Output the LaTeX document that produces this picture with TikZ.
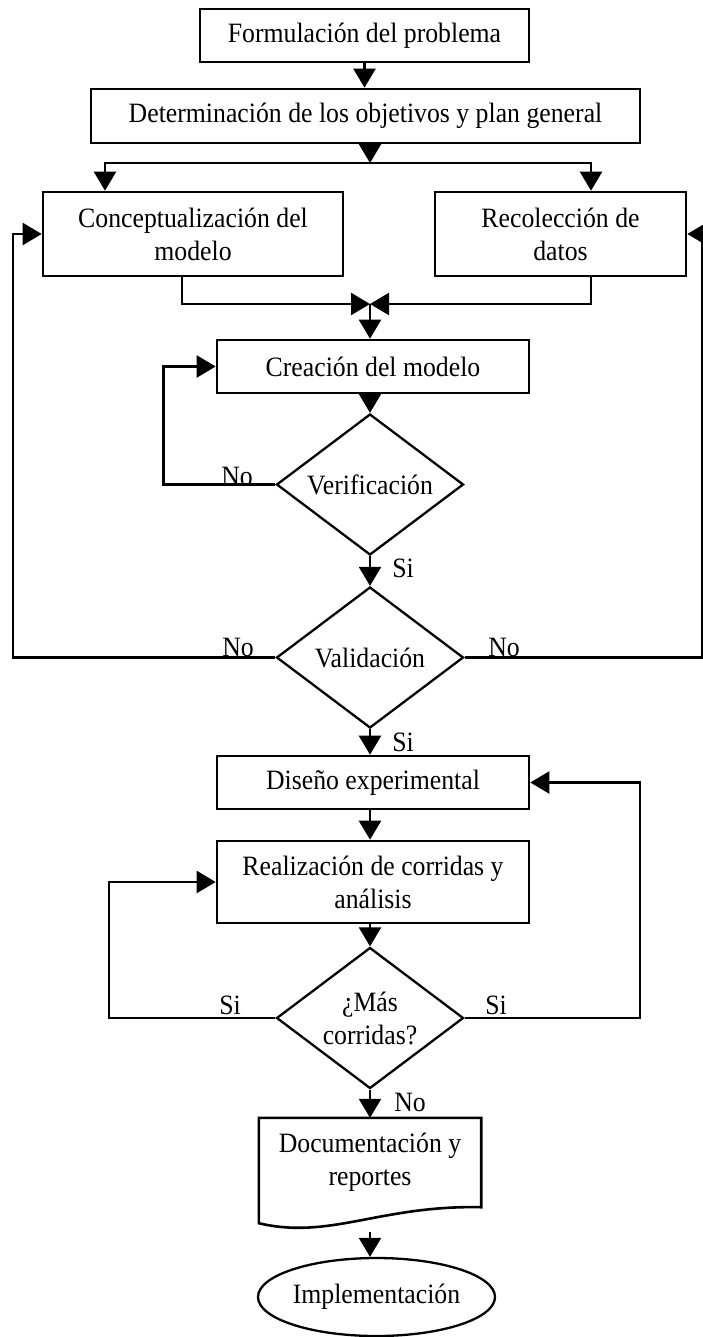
\documentclass[tikz,border=0pt]{standalone}
\usepackage{fontspec}
\setmainfont{Liberation Serif}[FakeStretch=0.92]
\usetikzlibrary{arrows.meta,shapes.geometric,calc}
\begin{document}
\begin{tikzpicture}[x=1pt,y=-1pt,
  every node/.style={font=\fontsize{28}{33}\selectfont, inner sep=0pt},
  box/.style={draw, line width=2.6pt, rectangle, align=center},
  dec/.style={draw, line width=2.3pt, diamond, aspect=1.33, align=center, minimum width=187pt, minimum height=141pt},
  lnk/.style={line width=2.3pt},
  tipx/.tip={Triangle[length=19pt,width=22pt]},
  arr/.style={line width=2.3pt, -tipx},
  arrboth/.style={line width=2.3pt, tipx-tipx},
  lab/.style={font=\fontsize{28}{33}\selectfont}
]
\useasboundingbox (0,0) rectangle (703,1337);

% nodes
\node[box, minimum width=329pt, minimum height=53pt] (f1) at (364.5,35.5) {Formulación del problema};
\node[box, minimum width=549pt, minimum height=54pt] (f2) at (365.5,116) {Determinación de los objetivos y plan general};
\node[box, minimum width=300pt, minimum height=84pt] (c3) at (193,234) {Conceptualización del\\modelo};
\node[box, minimum width=251pt, minimum height=84pt] (r4) at (560.5,234) {Recolección de\\datos};
\node[box, minimum width=312pt, minimum height=53pt] (cm) at (373,366.5) {Creación del modelo};
\node[dec] (ver) at (370,484.5) {Verificación};
\node[dec] (val) at (370,657.5) {Validación};
\node[box, minimum width=312pt, minimum height=53pt] (de) at (373,782.5) {Diseño experimental};
\node[box, minimum width=312pt, minimum height=82pt] (rc) at (373,882) {Realización de corridas y\\análisis};
\node[dec] (mc) at (370,1018) {¿Más\\corridas?};
\node[align=center, minimum width=222pt, minimum height=89pt] (doc) at (370,1162.5) {Documentación y\\reportes};
\draw[line width=2.6pt] (doc.north west) -- (doc.north east) -- (doc.south east)
  .. controls (380,1205) and (330,1240) .. ([yshift=-16pt]doc.south west) -- cycle;
\node[draw, ellipse, line width=2.3pt, minimum width=237pt, minimum height=78pt] (imp) at (376.5,1297) {Implementación};

% coordinates
\coordinate (sp) at (370,163);
\coordinate (spL) at (105,163);
\coordinate (spR) at (591,163);
\coordinate (mg) at (370,304);
\coordinate (dbot) at (370,1232);

% connectors
\draw[arr] (f1.south) -- (f1.south |- f2.north);
\draw[arr] (f2.south -| sp) -- (sp);
\draw[arrboth] (spL |- c3.north) -- (spL) -- (spR) -- (spR |- r4.north);
\draw[arr] ([xshift=-11pt]c3.south) |- (mg);
\draw[arr] ([xshift=30.5pt]r4.south) |- (mg);
\draw[arr] (mg) -- (mg |- cm.north);
\draw[arr] (cm.south -| ver.north) -- (ver.north);
\draw[arr] (ver.west) -- ++(-112,0) |- (cm.west);
\draw[arr] (ver.south) -- (val.north);
\draw[arr] (val.west) -- ++(-262.5,0) |- (c3.west);
\draw[arr] (val.east) -- ++(237.5,0) |- (r4.east);
\draw[arr] (val.south) -- (val.south |- de.north);
\draw[arr] (de.south -| val.south) -- (rc.north -| val.south);
\draw[arr] (rc.south -| mc.north) -- (mc.north);
\draw[arr] (mc.west) -- ++(-166.5,0) |- (rc.west);
\draw[arr] (mc.east) -- ++(175.5,0) |- (de.east);
\draw[arr] (mc.south) -- (mc.south |- doc.north);
\draw[arr] (dbot) -- (imp.north -| dbot);

% labels
\node[lab] (l1) at (237,476) {No};
\node[lab] (l2) at (403,568) {Si};
\node[lab] (l3) at (238,647) {No};
\node[lab] (l4) at (504,647) {No};
\node[lab] (l5) at (403,742) {Si};
\node[lab] (l6) at (230,1005) {Si};
\node[lab] (l7) at (496,1005) {Si};
\node[lab] (l8) at (410,1102) {No};
\end{tikzpicture}
\end{document}
